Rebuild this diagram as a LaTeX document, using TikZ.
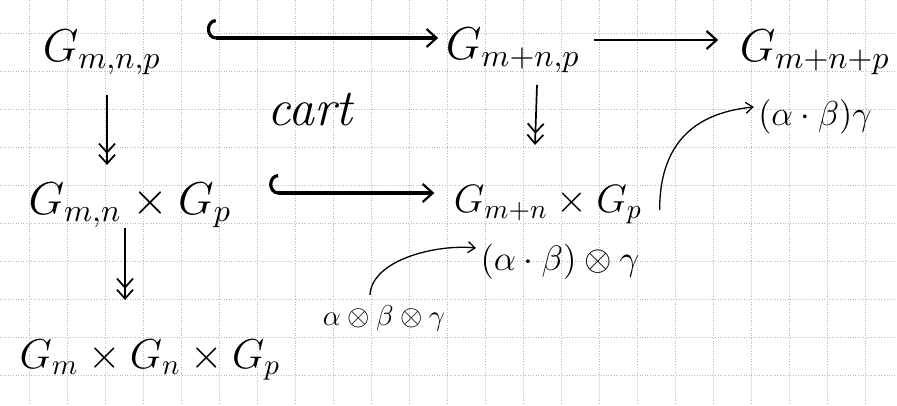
\documentclass[tikz,border=0pt]{standalone}
\usetikzlibrary{arrows.meta}
\begin{document}
\begin{tikzpicture}[x=1pt,y=-1pt,
  big/.style={inner sep=0pt, font=\Large, scale=3.2},
  cv/.style={line width=1.3pt, -{Straight Barb[length=7pt,width=11pt]}},
  hk/.style={line width=3.2pt, {Hooks[right,length=9pt,width=38pt]}-{Straight Barb[length=10pt,width=18pt,line width=2.2pt]}},
  plain/.style={line width=2.2pt, -{Straight Barb[length=10pt,width=18pt]}},
  dn/.style={line width=1.7pt, -{Straight Barb[length=9pt,width=16pt] Straight Barb[length=9pt,width=16pt]}},
  gridline/.style={gray!55, dotted, line width=0.6pt}]
\useasboundingbox (0,0) rectangle (897,405);
\fill[white] (0,0) rectangle (897,405);
\foreach \i in {0,...,23} {\draw[gridline] (29+38*\i,0) -- (29+38*\i,405);}
\foreach \j in {0,...,10} {\draw[gridline] (0,33+38*\j) -- (897,33+38*\j);}

\node[big] (gmnp) at (102,52) {$G_{m,n,p}$};
\node[big] (gmn2) at (513,50) {$G_{m+n,p}$};
\node[big] (gsum) at (815,52) {$G_{m+n+p}$};
\node[font=\Large\itshape, scale=3.6, inner sep=0pt] (cart) at (310,110) {cart};
\node[big] (gprod) at (130,205) {$G_{m,n}\times G_p$};
\node[big, scale=2.75/3.2] (gmnx) at (548,205) {$G_{m+n}\times G_p$};
\node[big, scale=2.9/3.2] (gtrip) at (150,360) {$G_m\times G_n\times G_p$};
\node[inner sep=0pt, font=\Large, scale=2.4] (abg1) at (815,117) {$(\alpha\cdot\beta)\gamma$};
\node[inner sep=0pt, font=\Large, scale=2.45] (abg2) at (560,262) {$(\alpha\cdot\beta)\otimes\gamma$};
\node[inner sep=0pt, font=\Large, scale=2.0] (abg3) at (384,318) {$\alpha\otimes\beta\otimes\gamma$};

\draw[hk] ([shift={(45,-14)}]gmnp.east) -- ([shift={(-7,-12)}]gmn2.west);
\draw[plain] ([shift={(13,-10)}]gmn2.east) -- ([shift={(-21,-12)}]gsum.west);
\draw[hk] ([shift={(37,-12)}]gprod.east) -- ([shift={(-19,-12)}]gmnx.west);
\draw[dn] ([shift={(5,20)}]gmnp.south) -- ++(0,70);
\draw[dn] ([shift={(24,12)}]gmn2.south) -- ++(-2,60);
\draw[dn] ([shift={(-5,0)}]gprod.south) -- ++(0,72);
\draw[cv] ([shift={(-14,-10)}]abg3.north) .. controls ++(2,-35) and ++(-40,-4) .. ([shift={(-4,-14)}]abg2.west);
\draw[cv] ([shift={(17,5)}]gmnx.east) .. controls ++(0,-75) and ++(-50,5) .. ([shift={(-4,-10)}]abg1.west);
\end{tikzpicture}
\end{document}
